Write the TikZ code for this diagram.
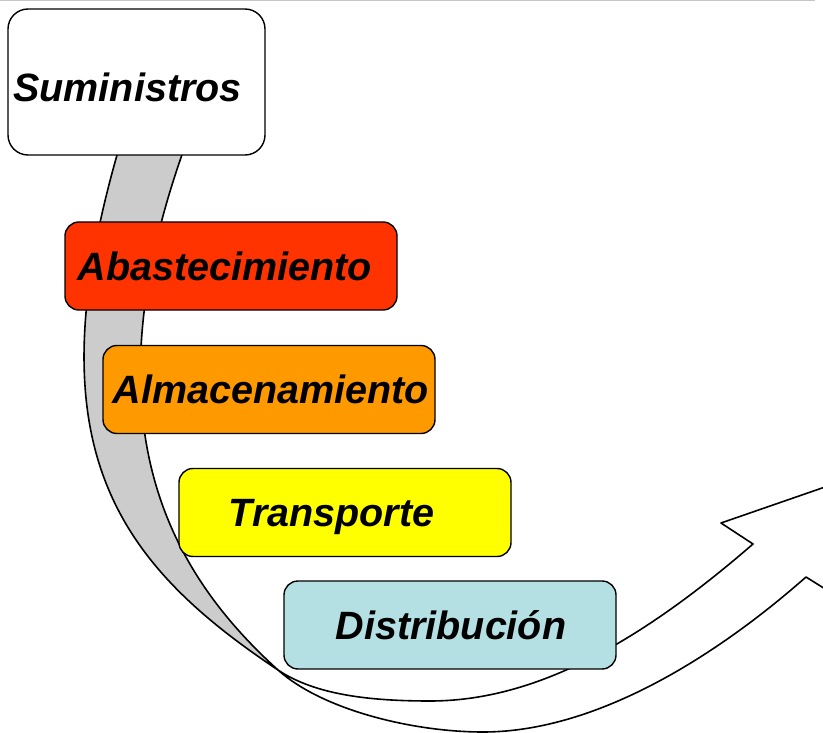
\documentclass[tikz,border=0pt]{standalone}
\usepackage{fontspec}
\setmainfont{Liberation Sans}
\definecolor{abast}{HTML}{FF3300}
\definecolor{almac}{HTML}{FF9900}
\definecolor{transp}{HTML}{FFFF00}
\definecolor{distr}{HTML}{B5E0E3}
\definecolor{back}{HTML}{CCCCCC}
\begin{document}
\begin{tikzpicture}[x=1pt,y=-1pt,
    box/.style={draw=black,line width=1.4pt,rounded corners=14pt,
      minimum width=332pt,minimum height=88pt,inner sep=0pt,
      text height=28pt,text depth=0pt,
      font=\fontsize{39.5}{47}\selectfont\bfseries\itshape},
    ribbon/.style={draw=black,line width=1.6pt,line join=round}]
  \useasboundingbox (0,0) rectangle (823,733);
  \draw[gray!45,line width=1.5pt] (0,0.75) -- (815,0.75);

  % back side of the band, up to the twist
  \filldraw[ribbon,fill=back] (122,138) .. controls (31,442) and (111.6,559) .. (278,670)
    .. controls (167,569.5) and (84,420) .. (188,138) -- cycle;

  % front side of the band, with the head
  \filldraw[ribbon,fill=white] (278,670) .. controls (315.4,695) and (370,701) .. (430,701)
    .. controls (530,701) and (632.2,648.8) .. (753,544)
    -- (721,523) -- (825,487) -- (838,597) -- (806,577)
    .. controls (761,616.6) and (623,732) .. (483,732)
    .. controls (413,732) and (322.5,710) .. (278,670) -- cycle;

  \node[box,minimum width=257pt,minimum height=146pt,rounded corners=20pt,
    text height=40pt,fill=white] (sum) at (136.5,82) {\hspace*{-18pt}Suministros};
  \foreach \txt/\col/\cx/\cy/\dx [count=\i] in {Abastecimiento/abast/231/266/-12,
      Almacenamiento/almac/269/389.5/4, Transporte/transp/345/512.5/-27,
      Distribución/distr/450/625/2} {
    \node[box,fill=\col] (stage\i) at (\cx,\cy) {\hspace*{\dx pt}\txt};
  }
\end{tikzpicture}
\end{document}
